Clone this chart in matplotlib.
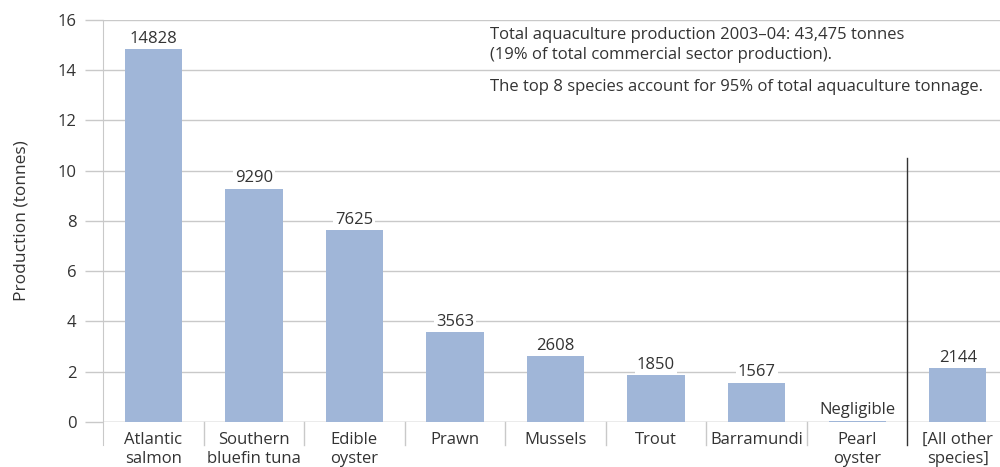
import matplotlib.pyplot as plt

plt.rcParams['font.family'] = ['Open Sans', 'DejaVu Sans']

species = ['Atlantic\nsalmon', 'Southern\nbluefin tuna', 'Edible\noyster', 'Prawn',
           'Mussels', 'Trout', 'Barramundi', 'Pearl\noyster', '[All other\nspecies]']
tonnes = [14828, 9290, 7625, 3563, 2608, 1850, 1567, 40, 2144]
bar_labels = ['14828', '9290', '7625', '3563', '2608', '1850', '1567', 'Negligible', '2144']
yticks = [0, 2, 4, 6, 8, 10, 12, 14, 16]

notes = ['Total aquaculture production 2003\u201304: 43,475 tonnes',
         '(19% of total commercial sector production).',
         'The top 8 species account for 95% of total aquaculture tonnage.']

bar_color = '#a0b6d8'
grid_color = '#c9c9c9'
text_color = '#333333'
fs = 12

fig = plt.figure(figsize=(10, 4.67), dpi=100)
ax = fig.add_axes([0.103, 0.0964, 0.897, 0.861])

x = list(range(len(species)))
heights = [t / 1000 for t in tonnes]
ax.bar(x, heights, width=0.57, color=bar_color, zorder=2)

# value labels sit above each bar on a white patch that hides the grid
for xi, h, lab in zip(x, heights, bar_labels):
    ax.text(xi, h + 0.1, lab, ha='center', va='bottom', fontsize=fs,
            color=text_color, zorder=3,
            bbox=dict(facecolor='white', edgecolor='none', pad=1.5))

ax.set_xlim(-0.5, 8.42)
ax.set_ylim(0, 16)
ax.set_yticks(yticks)
ax.set_yticklabels([str(v) for v in yticks], fontsize=fs, color=text_color)
ax.set_xticks(x)
ax.set_xticklabels(species, fontsize=fs, color=text_color, linespacing=1.3)
ax.tick_params(axis='x', length=0, pad=7)
ax.tick_params(axis='y', length=13, width=1, color=grid_color, pad=6)

ax.grid(axis='y', color=grid_color, linewidth=1, zorder=0)
ax.set_axisbelow(True)
for side in ['top', 'right', 'bottom']:
    ax.spines[side].set_visible(False)
ax.spines['left'].set_color(grid_color)
ax.spines['left'].set_bounds(-0.9, 16)
ax.axhline(0, color=grid_color, linewidth=1, zorder=1)

# short separators between category labels
for sep in [i + 0.5 for i in range(7)]:
    ax.plot([sep, sep], [0, -0.9], color=grid_color, linewidth=1, clip_on=False)
ax.plot([7.5, 7.5], [10.5, -0.9], color='#333333', linewidth=1, clip_on=False)

ax.set_ylabel('Production (tonnes)', fontsize=12.5, color=text_color)
ax.yaxis.set_label_coords(-0.082, 0.5)

ax.text(0.431, 0.963, notes[0], transform=ax.transAxes, fontsize=fs,
        color=text_color, va='center', ha='left')
ax.text(0.431, 0.913, notes[1], transform=ax.transAxes, fontsize=fs,
        color=text_color, va='center', ha='left')
ax.text(0.431, 0.833, notes[2], transform=ax.transAxes, fontsize=fs,
        color=text_color, va='center', ha='left')

fig.savefig('out.png', dpi=100)
